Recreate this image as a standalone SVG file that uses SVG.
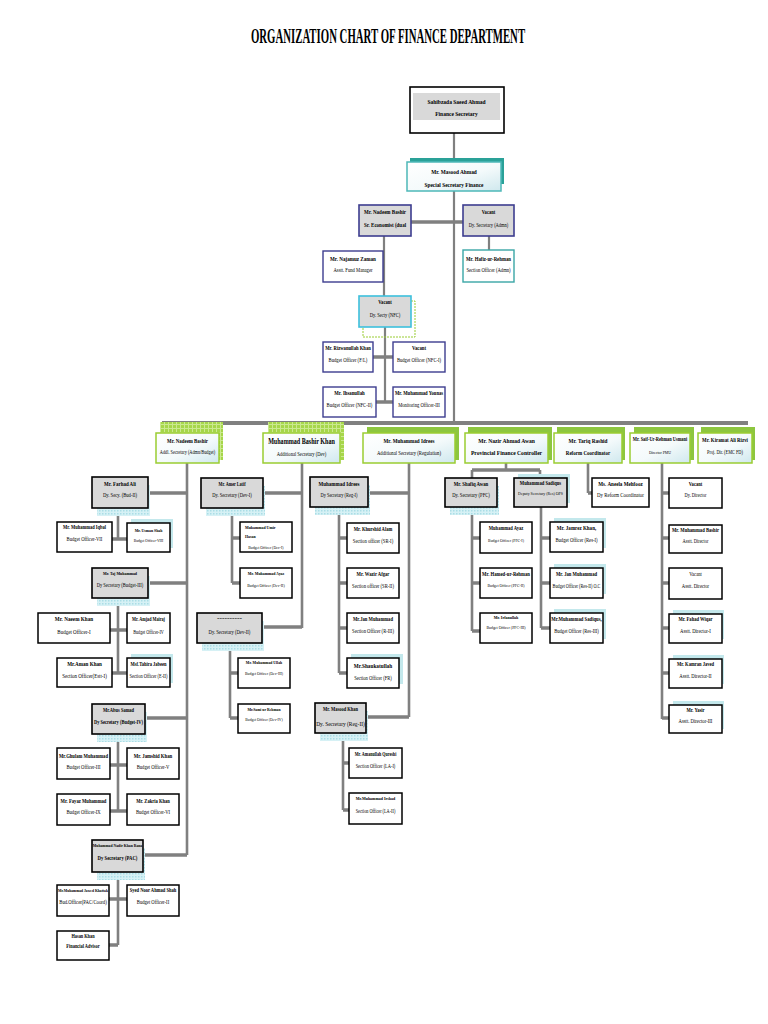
<svg xmlns="http://www.w3.org/2000/svg" width="768" height="1024" viewBox="0 0 768 1024">
<defs>
<style>
text{font-family:"Liberation Serif","Times New Roman",serif;text-anchor:middle;fill:#000}
.b{font-weight:bold;font-size:6px}
.r{font-size:5.8px}
.bx{fill:#fff;stroke:#000;stroke-width:1.5}
.gy{fill:#d9d9d9;stroke:#000;stroke-width:1.6}
.nv{fill:#fff;stroke:#3d3d8f;stroke-width:1.4}
.nvg{fill:#d9d9d9;stroke:#3d3d8f;stroke-width:1.6}
.gr{fill:url(#gg);stroke:#9acd32;stroke-width:1.5}
.tsh{fill:#c3e8ec}
.dsh{fill:url(#dots)}
.gsh{fill:#8dc63f}
.csh{fill:url(#chk)}
</style>
<linearGradient id="gg" x1="0" y1="0" x2="1" y2="1"><stop offset="0" stop-color="#fff"/><stop offset="0.55" stop-color="#f4fafb"/><stop offset="1" stop-color="#cfe8ee"/></linearGradient>
<pattern id="dots" width="3" height="3" patternUnits="userSpaceOnUse"><rect width="3" height="3" fill="#d6f1f5"/><rect width="1.5" height="1.5" fill="#aadde6"/></pattern>
<pattern id="chk" width="4" height="4" patternUnits="userSpaceOnUse"><rect width="4" height="4" fill="#a6d64a"/><path d="M0 .5H4M.5 0V4" stroke="#cbe98f" stroke-width="1"/></pattern>
</defs>
<rect width="768" height="1024" fill="#fff"/>
<g transform="translate(388 43) scale(.49 1)"><text x="0" y="0" style="font-size:22px;font-weight:bold">ORGANIZATION CHART OF FINANCE DEPARTMENT</text></g>

<g id="connectors" fill="none" stroke="#808080">
<path d="M454 133V162M454 191V423M489 236V250M384 236V296M385 327V402" stroke-width="2.2"/>
<path d="M411 222H463M373 357H393M376 402H393" stroke-width="3.5"/>
<path d="M162 423H748" stroke-width="4"/>
<path d="M187 463V855M118 508V539M118 598V673M118 734V811M118 872V945M302 463V628M232 508V583M230 643V718M409 463V717M339 507V673M343 733V810M506 463V470M472 470V478M540 470V478M472 507V631M541 507V628M588 463V493M662 463V719" stroke-width="2.6"/>
<path d="M148 493H187M148 583H187M145 718H187M143 855H187M112 539H127M110 630H127M112 673H127M110 765H127M110 811H127M109 899H127M109 945H118M263 493H302M262 627H302M232 538H240M232 583H240M230 673H238M230 718H238M368 493H409M366 717H409M339 538H347M339 583H347M339 628H347M339 673H347M343 763H349M343 810H349M472 470H540M472 538H480M472 583H480M472 631H480M541 538H550M541 583H550M541 628H550M588 493H592M662 493H669M662 538H669M662 583H669M662 628H669M662 673H669M662 718H669" stroke-width="3.5"/>
</g>

<g id="n_fs"><rect x="410" y="87" width="94" height="46" fill="#fff" stroke="#000" stroke-width="1.6"/><rect x="413" y="93" width="87" height="27" fill="#d9d9d9"/><g transform="translate(456.5 0) scale(.8 1)"><text class="b" y="104" style="font-size:6.9px">Sahibzada Saeed Ahmad</text><text class="b" y="116" style="font-size:6.9px">Finance Secretary</text></g></g>
<g id="n_ss"><rect x="410" y="158" width="94" height="26" fill="#2aa198"/><rect x="407" y="162" width="94" height="29" fill="url(#gg)" stroke="#4db8b8" stroke-width="1.5"/><g transform="translate(454 0) scale(.8 1)"><text class="b" y="174" style="font-size:6.7px">Mr. Masood Ahmad</text><text class="b" y="187" style="font-size:6.7px">Special Secretary Finance</text></g></g>
<g id="n_se"><rect x="359" y="205" width="52" height="31" class="nvg"/><g transform="translate(385 0) scale(.8 1)"><text class="b" y="214" style="font-size:6.3px">Mr. Nadeem Bashir</text><text class="b" y="227" style="font-size:6.3px">Sr. Economist (dual</text></g></g>
<g id="n_da"><rect x="463" y="205" width="51" height="31" class="nvg"/><g transform="translate(488.5 0) scale(.8 1)"><text class="b" y="214" style="font-size:5.7px">Vacant</text><text class="r" y="227" style="font-size:5.6px">Dy. Secretary (Admn)</text></g></g>
<g id="n_hr"><rect x="463" y="250" width="51" height="32" fill="#fff" stroke="#3aa6a6" stroke-width="1.4"/><g transform="translate(488.5 0) scale(.8 1)"><text class="b" y="261">Mr. Hafiz-ur-Rehman</text><text class="r" y="272">Section Officer (Admn)</text></g></g>
<g id="n_nz"><rect x="323" y="251" width="60" height="31" class="nv"/><g transform="translate(353 0) scale(.8 1)"><text class="b" y="261" style="font-size:6.4px">Mr. Najamuz Zaman</text><text class="r" y="272">Asstt. Fund Manager</text></g></g>
<g id="n_nfc"><rect x="363" y="301" width="52" height="36" fill="none" stroke="#99cc33" stroke-width="1" stroke-dasharray="2 1"/><rect x="359" y="296" width="52" height="31" fill="#d9d9d9" stroke="#3cc0dc" stroke-width="1.6"/><g transform="translate(385 0) scale(.8 1)"><text class="b" y="304" style="font-size:5.7px">Vacant</text><text class="r" y="317" style="font-size:5.7px">Dy. Secty (NFC)</text></g></g>
<g id="n_rk"><rect x="323" y="342" width="50" height="30" class="nv"/><g transform="translate(348 0) scale(.8 1)"><text class="b" y="350" style="font-size:5.8px">Mr. Rizwanullah Khan</text><text class="r" y="362">Budget Officer  (F/L)</text></g></g>
<g id="n_v1"><rect x="393" y="342" width="52" height="30" class="nv"/><g transform="translate(419 0) scale(.8 1)"><text class="b" y="350">Vacant</text><text class="r" y="362">Budget Officer (NFC-I)</text></g></g>
<g id="n_ih"><rect x="323" y="387" width="53" height="30" class="nv"/><g transform="translate(349.5 0) scale(.8 1)"><text class="b" y="395">Mr. Ihsanullah</text><text class="r" y="407">Budget Officer (NFC-II)</text></g></g>
<g id="n_my"><rect x="393" y="387" width="52" height="30" class="nv"/><g transform="translate(419 0) scale(.8 1)"><text class="b" y="395" style="font-size:5.8px">Mr. Muhammad Younas</text><text class="r" y="407">Monitoring Officer-III</text></g></g>

<g id="n_ab"><rect x="160" y="422" width="63" height="38" class="csh"/><rect x="156" y="433" width="63" height="30" class="gr"/><g transform="translate(187.5 0) scale(.8 1)"><text class="b" y="443" style="font-size:6.1px">Mr. Nadeem Bashir</text><text class="r" y="454" style="font-size:5.4px">Addl.  Secretary (Admn/Budget)</text></g></g>
<g id="n_bk"><rect x="268" y="422" width="76" height="38" class="csh"/><rect x="263" y="433" width="77" height="30" class="gr"/><g transform="translate(301.5 0) scale(.8 1)"><text class="b" y="444" style="font-size:7.6px">Muhammad Bashir Khan</text><text class="r" y="456" style="font-size:5.7px">Additional Secretary (Dev)</text></g></g>
<g id="n_mi"><rect x="367" y="427" width="92" height="33" class="gsh"/><rect x="363" y="433" width="92" height="30" class="gr"/><g transform="translate(409 0) scale(.8 1)"><text class="b" y="443" style="font-size:6.4px">Mr. Muhammad Idrees</text><text class="r" y="455" style="font-size:5.9px">Additional Secretary (Regulation)</text></g></g>
<g id="n_na"><rect x="468" y="427" width="84" height="33" class="gsh"/><rect x="465" y="433" width="83" height="30" class="gr"/><g transform="translate(506.5 0) scale(.8 1)"><text class="b" y="443" style="font-size:7px">Mr. Nazir Ahmad Awan</text><text class="b" y="455" style="font-size:7px">Provincial Finance Controller</text></g></g>
<g id="n_tr"><rect x="557" y="427" width="68" height="33" class="gsh"/><rect x="554" y="433" width="68" height="30" class="gr"/><g transform="translate(588 0) scale(.8 1)"><text class="b" y="443" style="font-size:6.6px">Mr. Tariq Rashid</text><text class="b" y="455" style="font-size:6.3px">Reform Coordinator</text></g></g>
<g id="n_su"><rect x="634" y="427" width="60" height="33" class="gsh"/><rect x="630" y="433" width="60" height="30" class="gr"/><g transform="translate(660 0) scale(.8 1)"><text class="b" y="441" style="font-size:5.5px">Mr. Saif-Ur-Rehman Usmani</text><text class="r" y="454" style="font-size:4.8px">Director PMU</text></g></g>
<g id="n_kr"><rect x="701" y="427" width="54" height="33" class="gsh"/><rect x="698" y="433" width="54" height="30" class="gr"/><g transform="translate(725 0) scale(.8 1)"><text class="b" y="442" style="font-size:6.1px">Mr. Kiramat Ali Rizvi</text><text class="r" y="454" style="font-size:5.4px">Proj. Dir.  (EMC FD)</text></g></g>

<g id="n_fa"><rect x="97" y="485" width="53" height="31" class="dsh"/><rect x="92" y="477" width="56" height="31" class="gy"/><g transform="translate(120 0) scale(.8 1)"><text class="b" y="486" style="font-size:6.2px">Mr. Farhad Ali</text><text class="r" y="497">Dy. Secy. (Bud-II)</text></g></g>
<g id="n_mq"><rect x="57" y="522" width="55" height="30" class="bx"/><g transform="translate(84.5 0) scale(.8 1)"><text class="b" y="529" style="font-size:5.6px">Mr. Muhammad Iqbal</text><text class="r" y="541">Budget Officer-VII</text></g></g>
<g id="n_us"><rect x="131" y="519" width="42" height="29" class="tsh"/><rect x="127" y="523" width="43" height="29" class="bx"/><g transform="translate(148.5 0) scale(.8 1)"><text class="b" y="532" style="font-size:4.8px">Mr. Usman Shah</text><text class="r" y="542" style="font-size:4.6px">Budget Officer-VIII</text></g></g>
<g id="n_tm"><rect x="97" y="576" width="53" height="30" class="dsh"/><rect x="92" y="568" width="56" height="30" class="gy"/><g transform="translate(120 0) scale(.8 1)"><text class="b" y="575" style="font-size:4.9px">Mr. Taj Muhammad</text><text class="r" y="587" style="font-size:5.6px">Dy Secretary (Budget-III)</text></g></g>
<g id="n_nk"><rect x="38" y="613" width="72" height="30" class="bx"/><g transform="translate(74 0) scale(.8 1)"><text class="b" y="621" style="font-size:6.5px">Mr. Naeem Khan</text><text class="r" y="634" style="font-size:6.3px">Budget Officer-I</text></g></g>
<g id="n_am"><rect x="127" y="613" width="43" height="30" class="bx"/><g transform="translate(148.5 0) scale(.8 1)"><text class="b" y="621" style="font-size:5.2px">Mr. Amjad Mairaj</text><text class="r" y="634" style="font-size:5.2px">Budget Officer-IV</text></g></g>
<g id="n_ak"><rect x="57" y="658" width="55" height="29" class="bx"/><g transform="translate(84.5 0) scale(.8 1)"><text class="b" y="666" style="font-size:6.4px">Mr.Aman Khan</text><text class="r" y="678" style="font-size:6.2px">Section Officer(Estt-I)</text></g></g>
<g id="n_tj"><rect x="131" y="654" width="42" height="29" class="tsh"/><rect x="127" y="658" width="43" height="29" class="bx"/><g transform="translate(148.5 0) scale(.8 1)"><text class="b" y="666" style="font-size:5.6px">Msf.Tahira Jabeen</text><text class="r" y="678" style="font-size:5.5px">Section Officer (E-II)</text></g></g>
<g id="n_as"><rect x="97" y="712" width="50" height="30" class="dsh"/><rect x="92" y="704" width="53" height="30" class="gy"/><g transform="translate(118.5 0) scale(.8 1)"><text class="b" y="712" style="font-size:5.6px">Mr.Abus Samad</text><text class="b" y="724" style="font-size:5.6px">Dy Secretary (Budget-IV)</text></g></g>
<g id="n_gm"><rect x="57" y="748" width="53" height="31" class="bx"/><g transform="translate(83.5 0) scale(.8 1)"><text class="b" y="758" style="font-size:5.8px">Mr.Ghulam Muhammad</text><text class="r" y="769">Budget Officer-III</text></g></g>
<g id="n_jk"><rect x="127" y="748" width="52" height="31" class="bx"/><g transform="translate(153 0) scale(.8 1)"><text class="b" y="758">Mr. Jamshid Khan</text><text class="r" y="769">Budget Officer-V</text></g></g>
<g id="n_fm"><rect x="57" y="794" width="53" height="31" class="bx"/><g transform="translate(83.5 0) scale(.8 1)"><text class="b" y="803" style="font-size:5.8px">Mr. Fayaz Muhammad</text><text class="r" y="814">Budget Officer-IX</text></g></g>
<g id="n_zk"><rect x="127" y="794" width="52" height="31" class="bx"/><g transform="translate(153 0) scale(.8 1)"><text class="b" y="803" style="font-size:5.7px">Mr. Zakria Khan</text><text class="r" y="814">Budget Officer-VI</text></g></g>
<g id="n_nr"><rect x="97" y="848" width="48" height="32" class="dsh"/><rect x="92" y="840" width="51" height="32" class="gy"/><g transform="translate(117.5 0) scale(.8 1)"><text class="b" y="847" style="font-size:4.7px">Muhammad Nadir Khan Rana</text><text class="b" y="860" style="font-size:5.9px">Dy Secretary (PAC)</text></g></g>
<g id="n_jw"><rect x="57" y="885" width="52" height="31" class="bx"/><g transform="translate(83 0) scale(.8 1)"><text class="b" y="892" style="font-size:4.6px">Mr.Muhammad Jawed Khattak</text><text class="r" y="904" style="font-size:5.9px">Bud.Officer(PAC/Coord)</text></g></g>
<g id="n_sn"><rect x="127" y="885" width="52" height="31" class="bx"/><g transform="translate(153 0) scale(.8 1)"><text class="b" y="892" style="font-size:5.7px">Syed Noor Ahmad Shah</text><text class="r" y="904">Budget Officer-II</text></g></g>
<g id="n_hk"><rect x="57" y="931" width="52" height="29" class="bx"/><g transform="translate(83 0) scale(.8 1)"><text class="b" y="938" style="font-size:5.4px">Hasan Khan</text><text class="b" y="948" style="font-size:5.5px">Financial Advisor</text></g></g>

<g id="n_al"><rect x="206" y="486" width="59" height="30" class="dsh"/><rect x="201" y="478" width="62" height="30" class="gy"/><g transform="translate(232 0) scale(.8 1)"><text class="b" y="486" style="font-size:5.2px">Mr. Amer Latif</text><text class="r" y="497" style="font-size:5.7px">Dy. Secretary (Dev-I)</text></g></g>
<g id="n_uh"><rect x="240" y="522" width="52" height="30" class="bx"/><g transform="translate(245 0) scale(.8 1)"><text class="b" y="529" style="font-size:4.9px;text-anchor:start">Muhammad Umir</text><text class="b" y="538" style="font-size:4.9px;text-anchor:start">Hasan</text><text class="r" x="4" y="549" style="font-size:4.8px;text-anchor:start">Budget Officer (Dev-I)</text></g></g>
<g id="n_ma"><rect x="240" y="568" width="52" height="30" class="bx"/><g transform="translate(266 0) scale(.8 1)"><text class="b" y="575" style="font-size:4.9px">Mr. Muhammad Ayaz</text><text class="r" y="587" style="font-size:4.9px">Budget Officer (Dev-II)</text></g></g>
<g id="n_d2"><rect x="202" y="621" width="62" height="30" class="dsh"/><rect x="197" y="613" width="65" height="30" class="gy"/><g transform="translate(229.5 0) scale(.8 1)"><text class="b" y="620" textLength="31" lengthAdjust="spacingAndGlyphs" style="font-size:6px">----------</text><text class="r" y="634">Dy. Secretary (Dev-II)</text></g></g>
<g id="n_mu"><rect x="238" y="658" width="52" height="30" class="bx"/><g transform="translate(264 0) scale(.8 1)"><text class="b" y="664" style="font-size:4.7px">Mr. Muhammad Ullah</text><text class="r" y="675" style="font-size:4.8px">Budget Officer (Dev-III)</text></g></g>
<g id="n_sr"><rect x="238" y="704" width="52" height="29" class="bx"/><g transform="translate(264 0) scale(.8 1)"><text class="b" y="711" style="font-size:4.7px">Mr.Sami ur Rehman</text><text class="r" y="721" style="font-size:4.7px">Budget Officer (Dev-IV)</text></g></g>

<g id="n_i1"><rect x="315" y="485" width="55" height="30" class="dsh"/><rect x="310" y="477" width="58" height="30" class="gy"/><g transform="translate(339 0) scale(.8 1)"><text class="b" y="486" style="font-size:6.3px">Muhammad Idrees</text><text class="r" y="497" style="font-size:5.5px">Dy Secretary (Reg-I)</text></g></g>
<g id="n_ka"><rect x="347" y="523" width="52" height="30" class="bx"/><g transform="translate(373 0) scale(.8 1)"><text class="b" y="531" style="font-size:5.7px">Mr. Khurshid Alam</text><text class="r" y="543">Section officer (SR-I)</text></g></g>
<g id="n_wa"><rect x="347" y="568" width="52" height="30" class="bx"/><g transform="translate(373 0) scale(.8 1)"><text class="b" y="576" style="font-size:5.8px">Mr.  Wazir Afgar</text><text class="r" y="588">Section officer (SR-II)</text></g></g>
<g id="n_jm"><rect x="347" y="613" width="52" height="30" class="bx"/><g transform="translate(373 0) scale(.8 1)"><text class="b" y="621" style="font-size:5.8px">Mr.Jan Muhammad</text><text class="r" y="633">Section Officer (R-III)</text></g></g>
<g id="n_sk"><rect x="351" y="654" width="52" height="30" class="tsh"/><rect x="347" y="658" width="52" height="30" class="bx"/><g transform="translate(373 0) scale(.8 1)"><text class="b" y="668" style="font-size:6.6px">Mr.Shaukatullah</text><text class="r" y="680" style="font-size:5.7px">Section Officer  (FR)</text></g></g>
<g id="n_mk"><rect x="320" y="711" width="48" height="30" class="dsh"/><rect x="315" y="703" width="51" height="30" class="gy"/><g transform="translate(340.5 0) scale(.8 1)"><text class="b" y="711" style="font-size:5.6px">Mr. Masood Khan</text><text class="r" y="726" style="font-size:6.8px">Dy. Secretary (Reg-II)</text></g></g>
<g id="n_aq"><rect x="349" y="748" width="53" height="30" class="bx"/><g transform="translate(375.5 0) scale(.8 1)"><text class="b" y="756" style="font-size:5.1px">Mr. Amanullah Qureshi</text><text class="r" y="768" style="font-size:5.5px">Section Officer (LA-I)</text></g></g>
<g id="n_mr"><rect x="349" y="793" width="53" height="31" class="bx"/><g transform="translate(375.5 0) scale(.8 1)"><text class="b" y="800" style="font-size:5px">Mr.Muhammad Irshad</text><text class="r" y="813" style="font-size:5.3px">Section Officer (LA-II)</text></g></g>

<g id="n_sa"><rect x="450" y="486" width="49" height="29" class="dsh"/><rect x="445" y="478" width="52" height="29" class="gy"/><g transform="translate(471 0) scale(.8 1)"><text class="b" y="486">Mr. Shafiq Awan</text><text class="r" y="497">Dy. Secretary (PFC)</text></g></g>
<g id="n_ms"><rect x="518" y="474" width="52" height="29" class="tsh"/><rect x="514" y="478" width="53" height="29" class="gy"/><g transform="translate(540.5 0) scale(.8 1)"><text class="b" y="485" style="font-size:5.8px">Muhammad Sadiqus</text><text class="r" y="495" style="font-size:4.9px">Deputy Secretary (Res) OPS</text></g></g>
<g id="n_ay"><rect x="480" y="522" width="52" height="31" class="bx"/><g transform="translate(506 0) scale(.8 1)"><text class="b" y="530" style="font-size:5.7px">Muhammad Ayaz</text><text class="r" y="542" style="font-size:4.8px">Budget Officer (PFC-I)</text></g></g>
<g id="n_hm"><rect x="480" y="568" width="52" height="30" class="bx"/><g transform="translate(506 0) scale(.8 1)"><text class="b" y="576" style="font-size:5.9px">Mr. Hamed-ur-Rehman</text><text class="r" y="587" style="font-size:4.8px">Budget Officer (PFC-II)</text></g></g>
<g id="n_if"><rect x="480" y="613" width="52" height="30" class="bx"/><g transform="translate(506 0) scale(.8 1)"><text class="b" y="619" style="font-size:5px">Mr. Irfanullah</text><text class="r" y="629" style="font-size:4.9px">Budget Officer  (PFC-III)</text></g></g>
<g id="n_jr"><rect x="554" y="518" width="52" height="30" class="tsh"/><rect x="550" y="522" width="53" height="30" class="bx"/><g transform="translate(576.5 0) scale(.8 1)"><text class="b" y="530" style="font-size:6.3px">Mr. Jamrez Khan,</text><text class="r" y="542">Budget Officer (Res-I)</text></g></g>
<g id="n_jn"><rect x="554" y="564" width="52" height="30" class="tsh"/><rect x="550" y="568" width="53" height="30" class="bx"/><g transform="translate(576.5 0) scale(.8 1)"><text class="b" y="576" style="font-size:5.8px">Mr. Jan Muhammad</text><text class="r" y="588" style="font-size:5.3px">Budget Officer (Res-II) O.C</text></g></g>
<g id="n_mz"><rect x="554" y="609" width="52" height="30" class="tsh"/><rect x="550" y="613" width="53" height="30" class="bx"/><g transform="translate(576.5 0) scale(.8 1)"><text class="b" y="621" style="font-size:5.9px">Mr.Muhammad Sadiqus,</text><text class="r" y="633" style="font-size:5.7px">Budget Officer (Res-III)</text></g></g>
<g id="n_an"><rect x="592" y="478" width="57" height="29" class="bx"/><g transform="translate(620.5 0) scale(.8 1)"><text class="b" y="486" style="font-size:6.4px">Ms. Aneela Mehfooz</text><text class="r" y="497" style="font-size:6.1px">Dy Reform Coordinator</text></g></g>

<g id="n_dd"><rect x="669" y="478" width="53" height="30" class="bx"/><g transform="translate(695.5 0) scale(.8 1)"><text class="b" y="486" style="font-size:5.7px">Vacant</text><text class="r" y="497" style="font-size:5.5px">Dy. Director</text></g></g>
<g id="n_mb"><rect x="669" y="525" width="53" height="28" class="bx"/><g transform="translate(695.5 0) scale(.8 1)"><text class="b" y="532" style="font-size:5.8px">Mr. Muhammad Bashir</text><text class="r" y="543" style="font-size:5.5px">Asstt. Director</text></g></g>
<g id="n_va"><rect x="669" y="568" width="53" height="31" class="bx"/><g transform="translate(695.5 0) scale(.8 1)"><text class="r" y="576" style="font-size:5.8px">Vacant</text><text class="r" y="588" style="font-size:5.8px">Asstt.  Director</text></g></g>
<g id="n_fw"><rect x="673" y="610" width="51" height="29" class="tsh"/><rect x="669" y="614" width="53" height="29" class="bx"/><g transform="translate(695.5 0) scale(.8 1)"><text class="b" y="621" style="font-size:5.7px">Mr. Fahad Wiqar</text><text class="r" y="633" style="font-size:5.9px">Asstt. Director-I</text></g></g>
<g id="n_kj"><rect x="673" y="655" width="51" height="29" class="tsh"/><rect x="669" y="659" width="53" height="29" class="bx"/><g transform="translate(695.5 0) scale(.8 1)"><text class="b" y="666" style="font-size:5.7px">Mr. Kamran Javed</text><text class="r" y="678" style="font-size:5.9px">Asstt. Director-II</text></g></g>
<g id="n_yr"><rect x="673" y="701" width="51" height="28" class="tsh"/><rect x="669" y="705" width="53" height="28" class="bx"/><g transform="translate(695.5 0) scale(.8 1)"><text class="b" y="712" style="font-size:5.7px">Mr. Yasir</text><text class="r" y="723" style="font-size:5.9px">Asstt. Director-III</text></g></g>
</svg>
